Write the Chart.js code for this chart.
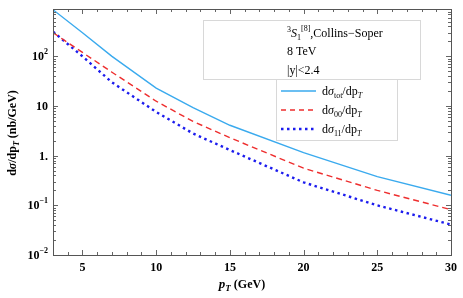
<!DOCTYPE html>
<html>
<head>
<meta charset="utf-8">
<script src="https://cdn.jsdelivr.net/npm/chart.js@4"></script>
<style>
  html, body { margin: 0; padding: 0; background: #fff; }
</style>
</head>
<body>
<canvas id="myChart" width="463" height="298"></canvas>
<script>
var pT = [3, 5, 7, 10, 12.5, 15, 20, 25, 30];
// cross sections in nb/GeV
var sigmaTot = [870, 300, 100, 23, 9.3, 4.1, 1.15, 0.38, 0.16];
var sigma00 = [300, 120, 48, 12.5, 4.9, 2.3, 0.56, 0.2, 0.082];
var sigma11 = [315, 100, 30, 7.6, 2.8, 1.3, 0.29, 0.1, 0.041];
// tick positions
var xTicks = [5, 10, 15, 20, 25, 30];
var yTicks = [0.01, 0.1, 1, 10, 100];
var yTickLabels = [['10', '\u22122'], ['10', '\u22121'], ['1.', ''], ['10', ''], ['10', '2']];

var SERIF = "'Liberation Serif', 'DejaVu Serif', serif";
var cTot = '#3aaaee', c00 = '#ee2e2e', c11 = '#1c1cee';

// draw a row of text pieces with their own fonts and vertical shifts
function drawPieces(ctx, pieces, x, y, align) {
  var total = 0;
  pieces.forEach(function (p) { ctx.font = p.f; total += ctx.measureText(p.t).width; });
  if (align === 'right') x -= total;
  if (align === 'center') x -= total / 2;
  ctx.textAlign = 'left';
  ctx.textBaseline = 'alphabetic';
  pieces.forEach(function (p) {
    ctx.font = p.f;
    ctx.fillText(p.t, x, y + (p.dy || 0));
    x += ctx.measureText(p.t).width;
  });
}

var frame = {
  id: 'frame',
  afterDatasetsDraw: function (chart) {
    var ctx = chart.ctx, a = chart.chartArea;
    var xs = chart.scales.x, ys = chart.scales.y;
    ctx.save();
    ctx.strokeStyle = '#666';
    ctx.lineWidth = 1;
    ctx.beginPath();
    // x ticks, bottom and top, pointing inward
    for (var v = 3; v <= 30; v++) {
      var px = Math.round(xs.getPixelForValue(v)) + 0.5;
      var len = (v % 5 === 0) ? 5 : 3;
      ctx.moveTo(px, a.bottom); ctx.lineTo(px, a.bottom - len);
      ctx.moveTo(px, a.top); ctx.lineTo(px, a.top + len);
    }
    // y ticks, left and right
    for (var e = -2; e <= 2; e++) {
      for (var m = 1; m <= 9; m++) {
        var val = m * Math.pow(10, e);
        if (val > ys.max) continue;
        var py = Math.round(ys.getPixelForValue(val)) + 0.5;
        var l = (m === 1) ? 5 : 3;
        ctx.moveTo(a.left, py); ctx.lineTo(a.left + l, py);
        ctx.moveTo(a.right, py); ctx.lineTo(a.right - l, py);
      }
    }
    ctx.stroke();
    ctx.strokeStyle = '#555';
    ctx.strokeRect(Math.round(a.left) + 0.5, Math.round(a.top) + 0.5,
      Math.round(a.right - a.left), Math.round(a.bottom - a.top));
    ctx.restore();
  },
  afterDraw: function (chart) {
    var ctx = chart.ctx;
    var ys = chart.scales.y;
    ctx.save();
    ctx.fillStyle = '#000';
    var big = 'bold 12px ' + SERIF, sup = 'bold 8px ' + SERIF;
    // y tick labels with exponents
    yTicks.forEach(function (v, i) {
      var py = ys.getPixelForValue(v) + 4;
      var lab = yTickLabels[i];
      var pieces = [{ t: lab[0], f: big }];
      if (lab[1]) pieces.push({ t: lab[1], f: sup, dy: -6 });
      drawPieces(ctx, pieces, 48, py, 'right');
    });
    // axis titles
    drawPieces(ctx, [
      { t: 'p', f: 'italic bold 13px ' + SERIF },
      { t: 'T', f: 'italic bold 9px ' + SERIF, dy: 3 },
      { t: ' (GeV)', f: 'bold 12px ' + SERIF }
    ], 242, 288, 'center');
    ctx.save();
    ctx.translate(16, 133);
    ctx.rotate(-Math.PI / 2);
    drawPieces(ctx, [
      { t: 'd', f: 'bold 12px ' + SERIF },
      { t: '\u03c3', f: 'italic bold 12px ' + SERIF },
      { t: '/dp', f: 'bold 12px ' + SERIF },
      { t: 'T', f: 'italic bold 8px ' + SERIF, dy: 3 },
      { t: ' (nb/GeV)', f: 'bold 12px ' + SERIF }
    ], 0, 0, 'center');
    ctx.restore();

    // annotation box
    ctx.fillStyle = '#fff';
    ctx.strokeStyle = '#d8d8d8';
    ctx.lineWidth = 1;
    ctx.fillRect(203, 20, 217, 59);
    ctx.strokeRect(203.5, 20.5, 217, 59);
    ctx.fillRect(276, 79, 121, 61);
    ctx.strokeRect(276.5, 79.5, 121, 61);
    ctx.fillStyle = '#000';
    var reg = '12px ' + SERIF, small = '8px ' + SERIF;
    drawPieces(ctx, [
      { t: '3', f: small, dy: -5 },
      { t: 'S', f: 'italic ' + reg },
      { t: '1', f: small, dy: 3 },
      { t: '[8]', f: small, dy: -6 },
      { t: ',Collins\u2212Soper', f: reg }
    ], 287, 37, 'left');
    drawPieces(ctx, [{ t: '8 TeV', f: reg }], 287, 55, 'left');
    drawPieces(ctx, [{ t: '|y|<2.4', f: reg }], 287, 74, 'left');

    // legend
    var rows = [
      { c: cTot, dash: [], w: 1.4, sub: 'tot', y: 91 },
      { c: c00, dash: [5, 4], w: 1.4, sub: '00', y: 110 },
      { c: c11, dash: [2.5, 3.5], w: 2.4, sub: '11', y: 129 }
    ];
    rows.forEach(function (r) {
      ctx.strokeStyle = r.c;
      ctx.lineWidth = r.w;
      ctx.setLineDash(r.dash);
      ctx.beginPath();
      ctx.moveTo(281, r.y);
      ctx.lineTo(316, r.y);
      ctx.stroke();
      ctx.setLineDash([]);
      drawPieces(ctx, [
        { t: 'd', f: reg },
        { t: '\u03c3', f: 'italic ' + reg },
        { t: r.sub, f: small, dy: 3 },
        { t: '/dp', f: reg },
        { t: 'T', f: 'italic ' + small, dy: 3 }
      ], 322, r.y + 4, 'left');
    });
    ctx.restore();
  }
};

function toPoints(ys) {
  return pT.map(function (x, i) { return { x: x, y: ys[i] }; });
}

var ctx = document.getElementById('myChart');
var myChart = new Chart(ctx, {
  type: 'line',
  data: {
    datasets: [
      { data: toPoints(sigmaTot), borderColor: cTot, borderWidth: 1.4 },
      { data: toPoints(sigma00), borderColor: c00, borderWidth: 1.4, borderDash: [6, 4] },
      { data: toPoints(sigma11), borderColor: c11, borderWidth: 2.4, borderDash: [2.5, 3.5] }
    ]
  },
  options: {
    responsive: false,
    animation: false,
    layout: { padding: { top: 9, right: 12, left: 0, bottom: 0 } },
    elements: {
      point: { radius: 0 },
      line: { fill: false, tension: 0 }
    },
    plugins: { legend: { display: false }, tooltip: { enabled: false } },
    scales: {
      x: {
        type: 'linear',
        min: 3,
        max: 30,
        grid: { display: false, drawTicks: false },
        border: { display: false },
        afterBuildTicks: function (s) { s.ticks = xTicks.map(function (v) { return { value: v }; }); },
        afterFit: function (s) { s.height = 43; },
        ticks: {
          padding: 6,
          maxRotation: 0,
          color: '#000',
          font: { family: SERIF, size: 12, weight: 'bold' }
        }
      },
      y: {
        type: 'logarithmic',
        min: 0.01,
        max: 900,
        grid: { display: false, drawTicks: false },
        border: { display: false },
        afterBuildTicks: function (s) { s.ticks = yTicks.map(function (v) { return { value: v }; }); },
        afterFit: function (s) { s.width = 53; },
        ticks: { display: false }
      }
    }
  },
  plugins: [frame]
});
</script>
</body>
</html>
